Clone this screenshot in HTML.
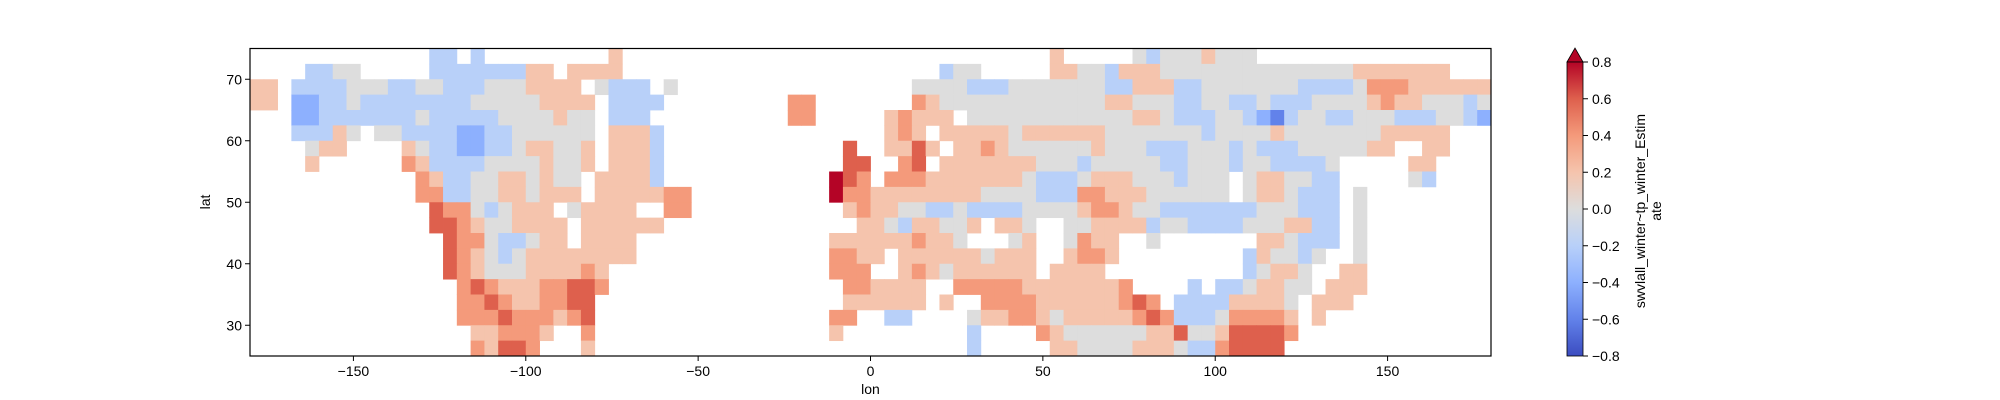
<!DOCTYPE html>
<html><head><meta charset="utf-8"><title>swvlall_winter~tp_winter_Estimate map</title>
<style>
html,body{margin:0;padding:0;background:#fff;}
svg{display:block;font-family:"Liberation Sans","DejaVu Sans",sans-serif;}
</style></head>
<body>
<svg id="chart" width="2000" height="400" viewBox="0 0 2000 400" xmlns="http://www.w3.org/2000/svg">
<rect x="0" y="0" width="2000" height="400" fill="#ffffff"/>
<g id="cells"></g>
<rect x="250" y="48.5" width="1241" height="307.5" fill="none" stroke="#000" stroke-width="1.2"/>
<g id="xticks"></g>
<g id="yticks"></g>
<text x="870.5" y="394" font-size="14" text-anchor="middle">lon</text>
<text transform="translate(210,202) rotate(-90)" font-size="14" text-anchor="middle">lat</text>
<defs><linearGradient id="cg" x1="0" y1="1" x2="0" y2="0"><stop offset="0" stop-color="#3b4cc0"/><stop offset="0.125" stop-color="#6282ea"/><stop offset="0.25" stop-color="#8db0fe"/><stop offset="0.375" stop-color="#b8d0f9"/><stop offset="0.5" stop-color="#dddddd"/><stop offset="0.625" stop-color="#f5c4ad"/><stop offset="0.75" stop-color="#f49a7b"/><stop offset="0.875" stop-color="#de604d"/><stop offset="1" stop-color="#b40426"/></linearGradient></defs>
<g>
<polygon points="1567,62 1575,48 1583,62" fill="#b40426" stroke="#000" stroke-width="0.8"/>
<rect x="1567" y="62" width="16" height="294" fill="url(#cg)" stroke="#000" stroke-width="0.8"/>
<g id="cticks"></g>
<text transform="translate(1645,211) rotate(-90)" font-size="14" text-anchor="middle">swvlall_winter~tp_winter_Estim</text>
<text transform="translate(1661,211) rotate(-90)" font-size="14" text-anchor="middle">ate</text>
</g>
</svg>
<script>
// Grid: 4° lon columns (-180..180), 2.5° lat rows (75 down to 25). Digits 0-8 = value (d-4)*0.2, '.' = no data
const lonStart = -180, lonStep = 4, latStart = 75, latStep = 2.5;
const gridRows = [
".......... ...33.3... ......5... .......... .......... ........5. ....434445 444....... ..........",
"....3344.. ...3333333 55.5555... .......... .......... 344.....55 4435554444 4444444444 5555555...",
"55.3333444 3344333444 5555.4333. 4......... ........44 4433344444 4433555334 4444443333 4666555555",
"55.2233433 3333334444 45555.3333 .........6 6.......65 4444444444 4455444334 4334333444 4565544434",
"...2233333 3343333344 44544.333. .........6 6.....5655 5.44444444 4444554333 4432134433 4443334432",
"...33354.4 4333322334 44444.5553 .......... ......565. 5555545555 5544444443 4444544444 4455555...",
"....455... .543322334 55445.5553 .......... ...7..5575 .556544444 4544433344 4343334444 455..55...",
"....5..... .653333444 45445.5553 .......... ...77..67. 5555555444 3444443344 434433334. ....55....",
".......... ..65334455 4544.55553 .......... ..876.6665 5555554333 4555444344 4.4554433. ....43....",
".......... ..66334455 4555.55555 66........ ..86655555 5554444333 6655544444 4.4554333. 4.........",
".......... ...7664345 55.45555.. 66........ ...5655443 3433334444 5665443333 333444333. 4.........",
".......... ...7765445 555.555555 .......... ....554355 445.554..4 4555534433 334445533. 4.........",
".......... ....766433 455.5555.. .......... ..55555565 54...45..4 655..4.... ...554333. 4.........",
".......... ....765434 55555555.. .......... ..6655.555 5554555..5 665....... ..354434.. 4.........",
".......... ....765444 555565.... .......... ..666..565 4555555.55 55........ ..34554..5 5.........",
".......... .....67655 566776.... .......... ...665555. .666665555 5556....3. 3345544.55 5.........",
".......... .....66765 56677..... .......... ...555555. 5..6666555 555676.333 355554.555 ..........",
".......... .....66676 66567..... .......... ..66..33.. ..45566545 5555676333 466665.5.. ..........",
".......... ......5566 65..6..... .......... ..5....... ..3....654 4444455744 577776.... ..........",
".......... ......6577 6...5..... .......... .......... ..3.....55 4444555433 67777..... .........."
];
const xTickValues = [-150, -100, -50, 0, 50, 100, 150];
const yTickValues = [30, 40, 50, 60, 70];
const cbarTickValues = [-0.8, -0.6, -0.4, -0.2, 0.0, 0.2, 0.4, 0.6, 0.8];

const NS = "http://www.w3.org/2000/svg";
const X0 = 250, X1 = 1491, Y0 = 48.5, Y1 = 356;
const xScale = lon => X0 + (lon + 180) * (X1 - X0) / 360;
const yScale = lat => Y0 + (75 - lat) * (Y1 - Y0) / 50;
const cTop = 62, cBot = 356;
const cScale = v => cBot - (v + 0.8) / 1.6 * (cBot - cTop);
const cmap = [[59,76,192],[98,130,234],[141,176,254],[184,208,249],[221,221,221],[245,196,173],[244,154,123],[222,96,77],[180,4,38]];
function color(v){
  let t = Math.max(0, Math.min(1, (v + 0.8) / 1.6)) * 8;
  const i = Math.min(7, Math.floor(t)), f = t - i;
  const a = cmap[i], b = cmap[i+1];
  return "rgb(" + [0,1,2].map(k => Math.round(a[k] + (b[k]-a[k])*f)).join(",") + ")";
}
function mk(tag, attrs){ const e = document.createElementNS(NS, tag); for (const k in attrs) e.setAttribute(k, attrs[k]); return e; }

const cells = document.getElementById("cells");
gridRows.forEach((row, r) => {
  const s = row.replace(/ /g, "");
  const latTop = latStart - r * latStep;
  for (let c = 0; c < s.length; c++) {
    const ch = s[c];
    if (ch === ".") continue;
    const v = (parseInt(ch, 10) - 4) * 0.2;
    const lon = lonStart + c * lonStep;
    const xa = xScale(lon), xb = xScale(lon + lonStep);
    const ya = yScale(latTop), yb = yScale(latTop - latStep);
    const rect = mk("rect", {x: xa.toFixed(2), y: ya.toFixed(2), width: (xb - xa + 0.4).toFixed(2), height: (yb - ya + 0.4).toFixed(2), fill: color(v)});
    
    
    cells.appendChild(rect);
  }
});

const fmtMinus = v => (v < 0 ? "\u2212" : "") + Math.abs(v);
const xg = document.getElementById("xticks");
xTickValues.forEach(v => {
  const x = xScale(v);
  const ln = mk("line", {x1: x, y1: Y1, x2: x, y2: Y1 + 5, stroke: "#000", "stroke-width": 1});
  
  
  xg.appendChild(ln);
  const t = mk("text", {x: x, y: Y1 + 20, "font-size": 14, "text-anchor": "middle"});
  
  
  t.textContent = fmtMinus(v);
  xg.appendChild(t);
});
const yg = document.getElementById("yticks");
yTickValues.forEach(v => {
  const y = yScale(v);
  const ln = mk("line", {x1: X0 - 5, y1: y, x2: X0, y2: y, stroke: "#000", "stroke-width": 1});
  
  
  yg.appendChild(ln);
  const t = mk("text", {x: X0 - 8, y: y + 5, "font-size": 14, "text-anchor": "end"});
  
  
  t.textContent = v;
  yg.appendChild(t);
});
const cg = document.getElementById("cticks");
cbarTickValues.forEach(v => {
  const y = cScale(v);
  const ln = mk("line", {x1: 1583, y1: y, x2: 1588, y2: y, stroke: "#000", "stroke-width": 1});
  
  
  cg.appendChild(ln);
  const t = mk("text", {x: 1592, y: y + 5, "font-size": 14, "text-anchor": "start"});
  
  
  t.textContent = (v < 0 ? "\u2212" : "") + Math.abs(v).toFixed(1);
  cg.appendChild(t);
});
</script>
</body></html>
